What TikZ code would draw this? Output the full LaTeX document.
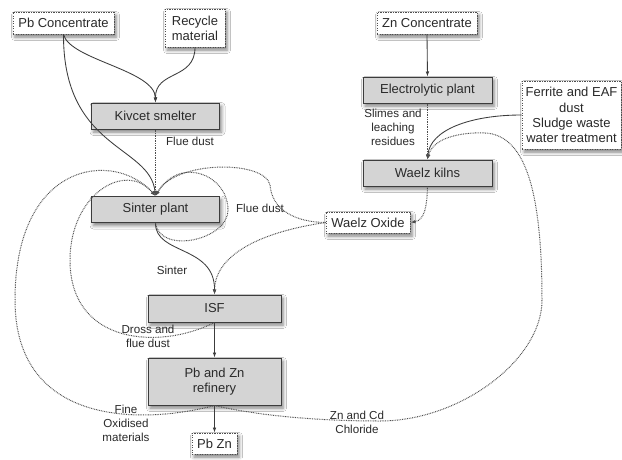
\documentclass[tikz,border=0pt]{standalone}
\usepackage{fontspec}
\setmainfont{Liberation Sans}
\usetikzlibrary{arrows.meta,shadows.blur}

\definecolor{boxgray}{HTML}{D4D4D4}
\definecolor{linegray}{HTML}{3C3C3C}
\definecolor{dotgray}{HTML}{4E4E4E}
\definecolor{txt}{HTML}{2A2A2A}

\tikzset{
  soft/.style={blur shadow={shadow xshift=2pt, shadow yshift=-3pt,
      shadow blur radius=3.5pt, shadow opacity=50}},
  unit/.style={soft, draw=linegray, line width=1pt, fill=boxgray,
      minimum width=128pt, minimum height=26pt, inner sep=0pt,
      align=center, font=\fontsize{13}{15}\selectfont, text=txt},
  feed/.style={soft, draw=dotgray, dash pattern=on 1.4pt off 1.1pt,
      line width=0.9pt, fill=white, inner sep=0pt, align=center,
      font=\fontsize{13}{15.3}\selectfont, text=txt},
  flow/.style={draw=linegray, line width=0.85pt,
      -{Latex[length=5pt,width=3.6pt]}},
  recyc/.style={draw=dotgray, line width=1pt, dash pattern=on 0.8pt off 0.9pt,
      -{Latex[length=5pt,width=3.6pt]}},
  lbl/.style={font=\fontsize{11.6}{14}\selectfont, text=txt,
      align=center, inner sep=0pt},
}

\begin{document}
\begin{tikzpicture}[x=1pt, y=-1pt]
  \fill[white] (0,0) rectangle (622,459);
  \useasboundingbox (0,0) rectangle (622,459);

  % lead circuit
  \node[feed, minimum width=101pt, minimum height=22pt] (pbc) at (63.5,23) {Pb Concentrate};
  \node[feed, minimum width=60pt, minimum height=38pt] (rec) at (195,28) {Recycle\\material};
  \node[unit] (kiv) at (155.5,116) {Kivcet smelter};
  \node[unit] (sin) at (155.5,209.5) {Sinter plant};
  \node[unit, minimum width=133pt, minimum height=27pt] (isf) at (214.5,308.5) {ISF};
  \node[unit, minimum width=133pt, minimum height=47pt] (ref) at (214.5,381.5) {Pb and Zn\\refinery};
  \node[feed, minimum width=45pt, minimum height=21pt] (pbzn) at (214.5,443.5) {Pb Zn};

  % zinc circuit
  \node[feed, minimum width=100pt, minimum height=22pt] (znc) at (427,23) {Zn Concentrate};
  \node[unit, minimum width=129pt] (ele) at (427.5,90) {Electrolytic plant};
  \node[feed, minimum width=99pt, minimum height=68pt] (fer) at (571.5,115)
       {Ferrite and EAF\\dust\\Sludge waste\\water treatment};
  \node[unit, minimum width=129pt] (wae) at (427.5,173) {Waelz kilns};
  \node[feed, minimum width=84pt, minimum height=21pt] (wox) at (368,222.5) {Waelz Oxide};

  % main flows
  \draw[flow] (pbc.south) .. controls (70,60) and (155,70) .. (kiv.north);
  \draw[flow] (rec.south) .. controls (195,80) and (155,70) .. (kiv.north);
  \draw[flow] (pbc.south) .. controls (63,150) and (150,145) .. (sin.north);
  \draw[flow] (sin.south) .. controls (155,255) and (215,245) .. (isf.north);
  \draw[flow] (isf.south) -- (ref.north);
  \draw[flow] (ref.south) -- (pbzn.north);
  \draw[flow] (znc.south) -- (ele.north);
  \draw[flow] (fer.west) .. controls (470,115) and (430,130) .. (wae.north);

  % recycled streams
  \draw[recyc] (kiv.south) -- (sin.north);
  \draw[recyc] (ele.south) -- (wae.north);
  \draw[recyc] (wae.south) .. controls (427,205) and (425,220) .. (wox.east);
  \draw[recyc] (wox.west) .. controls (295,222) and (272,210) .. (270,185)
               .. controls (265,160) and (175,160) .. (sin.north);
  \draw[recyc] (wox.west) .. controls (260,232) and (215,255) .. (isf.north);
  \draw[recyc] (sin.south) .. controls (160,255) and (228,240) .. (228,210)
               .. controls (228,175) and (180,155) .. (sin.north);
  \draw[recyc] (isf.south) .. controls (160,350) and (70,345) .. (70,260)
               .. controls (70,195) and (125,160) .. (sin.north);
  \draw[recyc] (ref.south) .. controls (140,425) and (15,425) .. (15,300)
               .. controls (15,160) and (115,150) .. (sin.north);
  \draw[recyc] (ref.south) .. controls (260,416) and (320,421) .. (380,421)
               .. controls (460,421) and (542,360) .. (542,300)
               .. controls (542,190) and (525,135) .. (485,133)
               .. controls (460,132) and (433,138) .. (wae.north);

  % stream labels
  \node[lbl] (lflue1) at (190,141) {Flue dust};
  \node[lbl] (lslime) at (393,127) {Slimes and\\leaching\\residues};
  \node[lbl] (lflue2) at (260,208) {Flue dust};
  \node[lbl] (lsint) at (172,270) {Sinter};
  \node[lbl] (ldross) at (148,336) {Dross and\\flue dust};
  \node[lbl] (lfine) at (126,423) {Fine\\Oxidised\\materials};
  \node[lbl] (lchlor) at (357,422) {Zn and Cd\\Chloride};
\end{tikzpicture}
\end{document}
